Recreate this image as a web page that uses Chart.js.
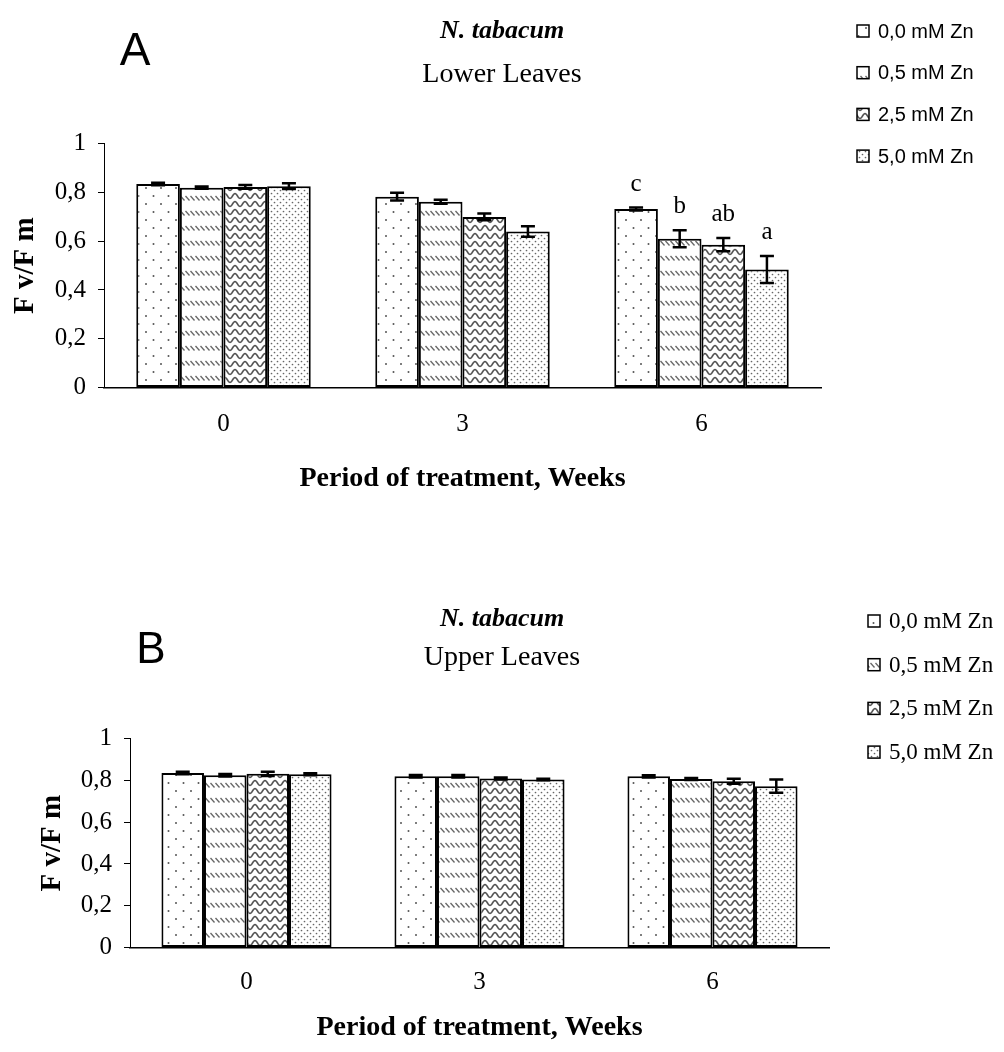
<!DOCTYPE html>
<html>
<head>
<meta charset="utf-8">
<script src="https://cdn.jsdelivr.net/npm/chart.js@4.4.1/dist/chart.umd.min.js"></script>
<style>
  body { margin: 0; background: #fff; width: 1004px; height: 1052px; position: relative; overflow: hidden; }
  canvas { position: absolute; left: 0; }
  #chartA { top: 0; }
  #chartB { top: 587px; }
</style>
</head>
<body>
<canvas id="chartA" width="1004" height="500"></canvas>
<canvas id="chartB" width="1004" height="458"></canvas>
<script>
// --- data ---
const weeks = ['0', '3', '6'];
const treatments = ['0,0 mM Zn', '0,5 mM Zn', '2,5 mM Zn', '5,0 mM Zn'];
const yTickLabels = ['0', '0,2', '0,4', '0,6', '0,8', '1'];

// lower leaves (panel A), one array per treatment, values per week
const lowerZn00 = [0.835, 0.783, 0.732];
const lowerZn05 = [0.820, 0.762, 0.610];
const lowerZn25 = [0.823, 0.700, 0.586];
const lowerZn50 = [0.826, 0.640, 0.484];
const lowerErr00 = [0.005, 0.016, 0.006];
const lowerErr05 = [0.005, 0.008, 0.035];
const lowerErr25 = [0.008, 0.014, 0.027];
const lowerErr50 = [0.012, 0.022, 0.055];
const lowerLetters = [['', '', 'c'], ['', '', 'b'], ['', '', 'ab'], ['', '', 'a']];

// upper leaves (panel B)
const upperZn00 = [0.836, 0.820, 0.820];
const upperZn05 = [0.825, 0.820, 0.807];
const upperZn25 = [0.832, 0.810, 0.797];
const upperZn50 = [0.830, 0.805, 0.773];
const upperErr00 = [0.006, 0.006, 0.005];
const upperErr05 = [0.006, 0.006, 0.005];
const upperErr25 = [0.010, 0.005, 0.012];
const upperErr50 = [0.005, 0.004, 0.032];

const SERIF = '"Liberation Serif", "Times New Roman", serif';
const SANS = '"Liberation Sans", Arial, sans-serif';

// --- hatch fills like the Excel patterns ---
function makePattern(kind) {
    const c = document.createElement('canvas');
    const sizes = [[15, 16], [5, 15], [10, 8], [6, 6]];
    c.width = sizes[kind][0];
    c.height = sizes[kind][1];
    const g = c.getContext('2d');
    g.fillStyle = '#fff';
    g.fillRect(0, 0, c.width, c.height);
    g.fillStyle = '#555';
    g.strokeStyle = '#666';
    if (kind === 0) {
        // sparse staggered dots
        g.beginPath(); g.arc(3.5, 4, 1, 0, Math.PI * 2); g.fill();
        g.beginPath(); g.arc(11, 12, 1, 0, Math.PI * 2); g.fill();
    } else if (kind === 1) {
        // short backslash dashes in rows
        g.lineWidth = 1.3;
        g.beginPath(); g.moveTo(0.5, 1); g.lineTo(4.5, 5.5); g.stroke();
    } else if (kind === 2) {
        // wavy lines
        g.lineWidth = 1.6;
        g.strokeStyle = '#555';
        g.beginPath();
        for (let x = 0; x <= 10; x += 0.5) {
            const y = 4 + 2.5 * Math.cos(x / 10 * Math.PI * 2);
            if (x === 0) g.moveTo(x, y); else g.lineTo(x, y);
        }
        g.stroke();
    } else {
        // dense dots
        g.fillStyle = '#666';
        g.beginPath(); g.arc(1.5, 1.5, 0.85, 0, Math.PI * 2); g.fill();
        g.beginPath(); g.arc(4.5, 4.5, 0.85, 0, Math.PI * 2); g.fill();
    }
    return g.createPattern(c, 'repeat');
}
const fills = [0, 1, 2, 3].map(makePattern);

// --- error bars, significance letters, legend and panel letter ---
const extrasPlugin = {
    id: 'extras',
    afterDatasetsDraw(chart, args, opts) {
        const ctx = chart.ctx;
        const yScale = chart.scales.y;
        ctx.save();
        chart.data.datasets.forEach((ds, i) => {
            const meta = chart.getDatasetMeta(i);
            meta.data.forEach((bar, j) => {
                const v = ds.data[j];
                const e = opts.errors[i][j];
                const yTop = yScale.getPixelForValue(v + e);
                const yBot = yScale.getPixelForValue(v - e);
                ctx.strokeStyle = '#000';
                ctx.lineWidth = 2.5;
                ctx.beginPath();
                ctx.moveTo(bar.x, yTop); ctx.lineTo(bar.x, yBot);
                ctx.moveTo(bar.x - 7, yTop); ctx.lineTo(bar.x + 7, yTop);
                ctx.moveTo(bar.x - 7, yBot); ctx.lineTo(bar.x + 7, yBot);
                ctx.stroke();
                const letter = opts.letters ? opts.letters[i][j] : '';
                if (letter) {
                    ctx.fillStyle = '#000';
                    ctx.font = '25px ' + SERIF;
                    ctx.textAlign = 'center';
                    ctx.textBaseline = 'alphabetic';
                    ctx.fillText(letter, bar.x, yTop - 17);
                }
            });
        });
        ctx.restore();
    },
    afterDraw(chart, args, opts) {
        const ctx = chart.ctx;
        const lg = opts.legend;
        ctx.save();
        chart.data.datasets.forEach((ds, i) => {
            const cy = lg.y + i * lg.dy;
            ctx.fillStyle = ds.backgroundColor;
            ctx.fillRect(lg.x, cy - 6, 12, 12);
            ctx.strokeStyle = '#000';
            ctx.lineWidth = 1.5;
            ctx.strokeRect(lg.x, cy - 6, 12, 12);
            ctx.fillStyle = '#000';
            ctx.font = lg.font;
            ctx.textAlign = 'left';
            ctx.textBaseline = 'middle';
            ctx.fillText(ds.label, lg.x + 21, cy + 1);
        });
        ctx.font = opts.panel.font;
        ctx.textAlign = 'center';
        ctx.textBaseline = 'middle';
        ctx.fillText(opts.panel.text, opts.panel.x, opts.panel.y);
        ctx.restore();
    }
};

function buildChart(canvasId, cfg) {
    const datasets = cfg.series.map((vals, i) => ({
        label: treatments[i],
        data: vals,
        backgroundColor: fills[i],
        borderColor: '#000',
        borderWidth: 2,
        borderSkipped: false,
        categoryPercentage: 0.73,
        barPercentage: 1.0
    }));
    return new Chart(document.getElementById(canvasId), {
        type: 'bar',
        data: { labels: weeks, datasets: datasets },
        options: {
            responsive: false,
            animation: false,
            devicePixelRatio: 1,
            layout: { padding: { left: 0, right: 0, top: 0, bottom: cfg.padBottom } },
            scales: {
                x: {
                    ticks: { color: '#000', font: { family: SERIF, size: 25 }, padding: cfg.xTickPad },
                    grid: { display: true, drawOnChartArea: false, drawTicks: false },
                    border: { color: '#000', width: 1.5 },
                    title: {
                        display: true, text: 'Period of treatment, Weeks', color: '#000',
                        font: { family: SERIF, size: 28, weight: 'bold' },
                        padding: { top: cfg.xTitlePad, bottom: 0 }
                    }
                },
                y: {
                    min: 0, max: 1,
                    afterFit: s => { s.width = cfg.axisLeft; },
                    ticks: {
                        stepSize: 0.2, color: '#000', padding: 12,
                        font: { family: SERIF, size: 25 },
                        callback: (v, i) => yTickLabels[i]
                    },
                    grid: { drawOnChartArea: false, drawTicks: true, tickLength: 6, color: '#000' },
                    border: { color: '#000', width: 1 },
                    title: {
                        display: true, text: 'F v/F m', color: '#000',
                        font: { family: SERIF, size: 29, weight: 'bold' },
                        padding: { top: cfg.yTitlePad, bottom: 0 }
                    }
                },
                // empty right-hand strip that holds the legend, keeps the titles centred on the page
                side: {
                    type: 'linear', position: 'right', display: true,
                    afterFit: s => { s.width = cfg.sideWidth; },
                    ticks: { display: false },
                    grid: { display: false, drawTicks: false },
                    border: { display: false }
                }
            },
            plugins: {
                legend: { display: false },
                tooltip: { enabled: false },
                title: {
                    display: true, text: 'N. tabacum', color: '#000',
                    font: { family: SERIF, size: 26, weight: 'bold', style: 'italic' },
                    padding: { top: cfg.titleTop, bottom: 0 }
                },
                subtitle: {
                    display: true, text: cfg.subtitle, color: '#000',
                    font: { family: SERIF, size: 28 },
                    padding: { top: cfg.subTop, bottom: cfg.subBottom }
                },
                extras: {
                    errors: cfg.errors,
                    letters: cfg.letters,
                    legend: cfg.legend,
                    panel: cfg.panel
                }
            }
        },
        plugins: [extrasPlugin]
    });
}

buildChart('chartA', {
    series: [lowerZn00, lowerZn05, lowerZn25, lowerZn50],
    errors: [lowerErr00, lowerErr05, lowerErr25, lowerErr50],
    letters: lowerLetters,
    subtitle: 'Lower Leaves',
    axisLeft: 104, sideWidth: 183, padBottom: 4,
    xTickPad: 22, xTitlePad: 1, yTitlePad: 8,
    titleTop: 16, subTop: 11, subBottom: 52,
    legend: { x: 857, y: 31, dy: 41.7, font: '20px ' + SANS },
    panel: { text: 'A', x: 135, y: 52, font: '46px ' + SANS }
});

buildChart('chartB', {
    series: [upperZn00, upperZn05, upperZn25, upperZn50],
    errors: [upperErr00, upperErr05, upperErr25, upperErr50],
    letters: null,
    subtitle: 'Upper Leaves',
    axisLeft: 130, sideWidth: 175, padBottom: 0,
    xTickPad: 20, xTitlePad: -6, yTitlePad: 35,
    titleTop: 17, subTop: 6, subBottom: 64,
    legend: { x: 868, y: 34, dy: 43.7, font: '23px ' + SERIF },
    panel: { text: 'B', x: 151, y: 64, font: '44px ' + SANS }
});
</script>
</body>
</html>
